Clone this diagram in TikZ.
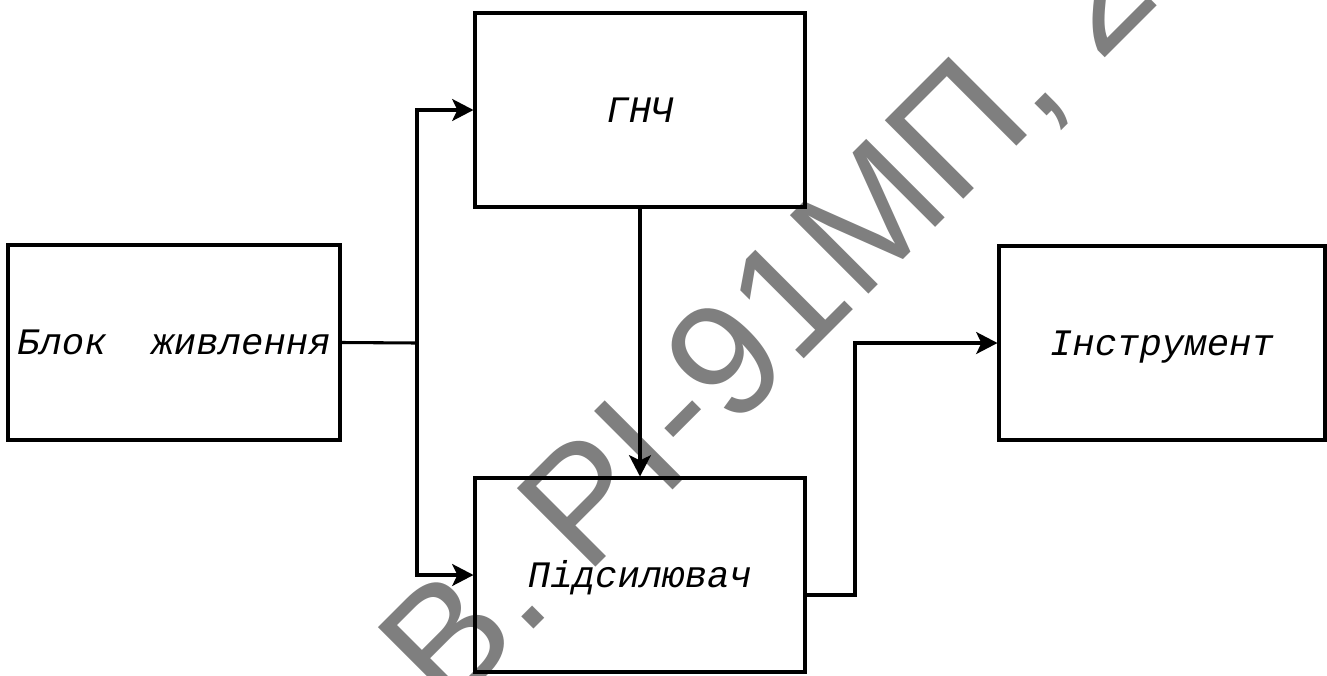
\documentclass[tikz,border=0pt]{standalone}
\usepackage{fontspec}
\newfontfamily\boxfont{Liberation Mono}
\newfontfamily\wmfont{Liberation Sans}
\usetikzlibrary{arrows.meta}
\tikzset{
  blk/.style={draw=black, line width=2.3pt, fill=white, rectangle, inner sep=0pt,
    font=\boxfont\itshape\fontsize{28}{34}\selectfont, text height=18pt, text depth=0pt},
  wire/.style={draw=black, line width=2.3pt, line join=miter},
  arrw/.style={draw=black, line width=2.3pt, line join=miter, -{Stealth[length=16pt, width=16.5pt, inset=4pt]}},
  wm/.style={text=black, opacity=0.5, inner sep=0pt, anchor=base west, rotate=45,
    font=\wmfont\fontsize{121}{121}\selectfont}
}
\begin{document}
\begin{tikzpicture}[x=0.75pt, y=-0.75pt]
\useasboundingbox (0,0) rectangle (1327,675);
\clip (0,0) rectangle (1327,675);
\node[blk, minimum width=332*0.75pt, minimum height=195*0.75pt] (pw) at (174,342.5) {Блок\ \ живлення};
\node[blk, minimum width=330*0.75pt, minimum height=194*0.75pt] (gen) at (640,110) {ГНЧ};
\node[blk, minimum width=330*0.75pt, minimum height=194*0.75pt] (amp) at (640,575) {Підсилювач};
\node[blk, minimum width=326*0.75pt, minimum height=194*0.75pt] (ins) at (1162,343) {Інструмент};
\coordinate (j) at (417,343);
\coordinate (ampout) at (805,595);
\coordinate (bend) at (855,595);
\path[wire] (pw.east) -- (j);
\path[arrw] (j) |- (gen.west);
\path[arrw] (j) |- (amp.west);
\path[arrw] (gen.south) -- (amp.north);
\path[arrw] (ampout) -- (bend) |- (ins.west);
\node[wm] (mark) at (447,716) {В. РІ-91МП, 2};
\end{tikzpicture}
\end{document}
